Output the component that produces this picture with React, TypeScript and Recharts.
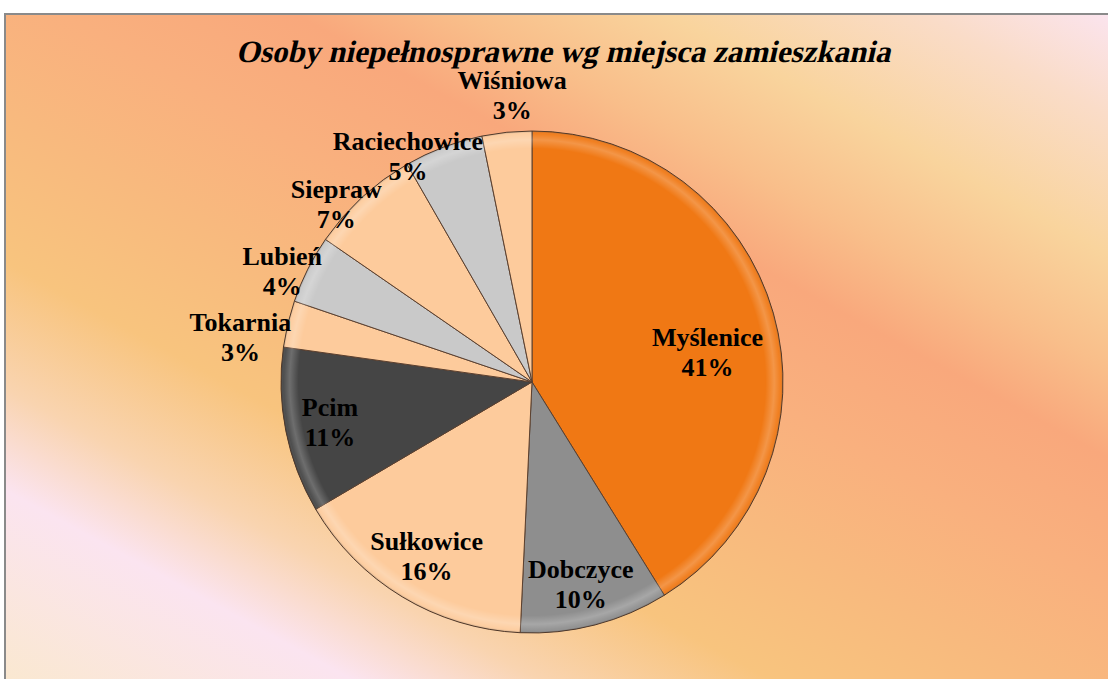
import React from "react";
import { PieChart, Pie, Cell } from "recharts";

const towns = [
  "Myślenice",
  "Dobczyce",
  "Sułkowice",
  "Pcim",
  "Tokarnia",
  "Lubień",
  "Siepraw",
  "Raciechowice",
  "Wiśniowa"
];
const shares = [41.2, 9.6, 15.8, 10.7, 3.0, 4.4, 7.1, 5.1, 3.2];
const sliceColors = [
  "#F07814",
  "#8E8E8E",
  "#FDCB9C",
  "#454545",
  "#FDCB9C",
  "#C9C9C9",
  "#FDCB9C",
  "#C9C9C9",
  "#FDCB9C"
];

const data = towns.map((name, i) => ({ name, value: shares[i] }));

// label placement: radius from center + clockwise nudge in degrees
const labelPlace: Record<string, { r: number; da: number }> = {
  "Myślenice": { r: 178, da: 6.4 },
  Dobczyce: { r: 208, da: 1.0 },
  "Sułkowice": { r: 204, da: 0 },
  Pcim: { r: 206, da: 0 },
  Tokarnia: { r: 295, da: -4.7 },
  "Lubień": { r: 273, da: -2.9 },
  Siepraw: { r: 264, da: -5.2 },
  Raciechowice: { r: 257, da: -8.2 },
  "Wiśniowa": { r: 287, da: 1.8 }
};

const SERIF = "Liberation Serif, Tinos, Times New Roman, Times, DejaVu Serif, serif";
const RADIAN = Math.PI / 180;
const CX = 532;
const CY = 382;
const R = 251;

function renderLabel(props: any) {
  const { cx, cy, midAngle, percent, name } = props;
  const p = labelPlace[name] || { r: 200, da: 0 };
  const a = (midAngle - p.da) * RADIAN;
  const x = cx + p.r * Math.cos(a);
  const y = cy - p.r * Math.sin(a);
  return (
    <text
      x={x}
      y={y}
      textAnchor="middle"
      fill="#000"
      style={{ fontFamily: SERIF, fontWeight: "bold", fontSize: 26 }}
    >
      <tspan x={x} y={y - 15} dominantBaseline="central">
        {name}
      </tspan>
      <tspan x={x} y={y + 15} dominantBaseline="central">
        {Math.round(percent * 100)}%
      </tspan>
    </text>
  );
}

export default function App() {
  return (
    <div style={{ position: "absolute", left: 0, top: 0, width: 1108, height: 679, overflow: "hidden", background: "#fff" }}>
      <div
        style={{
          position: "absolute",
          left: 4,
          top: 13,
          width: 1104,
          height: 666,
          borderLeft: "2px solid #8a8a8a",
          borderTop: "2px solid #8a8a8a",
          background:
            "linear-gradient(208.6deg, #FBE4EE 0%, #FADCC8 8%, #F9D49D 19%, #F9BE8A 28%, #F9A87C 35%, #F9B07E 45%, #F8B97E 55%, #F8C47E 67%, #F9D4B0 77%, #FBE4F0 85%, #FAE8D0 100%)"
        }}
      />
      <div
        style={{
          position: "absolute",
          left: 20,
          top: 37,
          width: 1090,
          textAlign: "center",
          fontFamily: SERIF,
          fontWeight: "bold",
          fontSize: 31,
          lineHeight: "30px",
          color: "#000"
        }}
      >
        <span style={{ display: "inline-block", transform: "skewX(-13deg)" }}>
          Osoby niepełnosprawne wg miejsca zamieszkania
        </span>
      </div>
      <div style={{ position: "absolute", left: 0, top: 0 }}>
        <PieChart width={1108} height={679} margin={{ top: 0, right: 0, bottom: 0, left: 0 }}>
          <defs>
            <radialGradient id="bevel" gradientUnits="userSpaceOnUse" cx={CX} cy={CY} r={R}>
              <stop offset="0%" stopColor="#ffffff" stopOpacity={0} />
              <stop offset="93%" stopColor="#ffffff" stopOpacity={0} />
              <stop offset="96.5%" stopColor="#ffffff" stopOpacity={0.22} />
              <stop offset="99%" stopColor="#ffffff" stopOpacity={0.05} />
              <stop offset="100%" stopColor="#000000" stopOpacity={0.25} />
            </radialGradient>
          </defs>
          <Pie
            data={data}
            dataKey="value"
            nameKey="name"
            cx={CX}
            cy={CY}
            outerRadius={R}
            startAngle={90}
            endAngle={-270}
            stroke="#5a4030"
            strokeWidth={1}
            isAnimationActive={false}
            label={false}
            labelLine={false}
          >
            {data.map((d, i) => (
              <Cell key={d.name} fill={sliceColors[i]} />
            ))}
          </Pie>
          <Pie
            data={data}
            dataKey="value"
            nameKey="name"
            cx={CX}
            cy={CY}
            outerRadius={R}
            startAngle={90}
            endAngle={-270}
            stroke="none"
            fill="url(#bevel)"
            isAnimationActive={false}
            label={renderLabel}
            labelLine={false}
          >
            {data.map((d) => (
              <Cell key={d.name} fill="url(#bevel)" />
            ))}
          </Pie>
        </PieChart>
      </div>
    </div>
  );
}
